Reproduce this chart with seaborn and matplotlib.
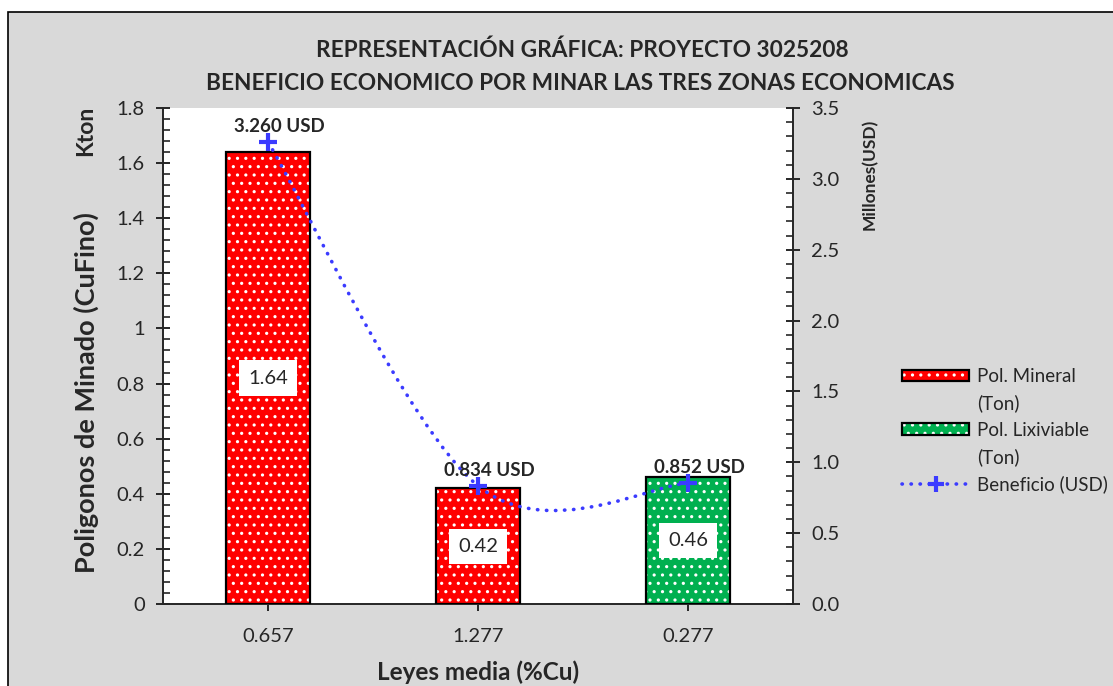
import numpy as np
import pandas as pd
import matplotlib
matplotlib.use("Agg")
import matplotlib.pyplot as plt
import seaborn as sns
from matplotlib.patches import Rectangle, Patch, PathPatch
from matplotlib.path import Path
from matplotlib.lines import Line2D
from matplotlib.ticker import MultipleLocator, FormatStrFormatter

# data
leyes = ["0.657", "1.277", "0.277"]
kton = [1.64, 0.42, 0.46]
tipo = ["Pol. Mineral", "Pol. Mineral", "Pol. Lixiviable"]
beneficio = [3.260, 0.834, 0.852]
beneficio_lbl = ["3.260 USD", "0.834 USD", "0.852 USD"]

colores = {"Pol. Mineral": "#ff0000", "Pol. Lixiviable": "#00b050"}
azul = "#3b3bff"

sns.set_style("ticks")
plt.rcParams["font.family"] = ["Lato", "DejaVu Sans"]
plt.rcParams["hatch.linewidth"] = 1.1

df = pd.DataFrame({"ley": leyes, "kton": kton, "tipo": tipo})

fig = plt.figure(figsize=(11.13, 6.86), dpi=100)
fig.patch.set_facecolor("white")
fig.patches.append(Rectangle((8 / 1113, -0.1), 1.2, 1.1 - 12 / 686,
                             transform=fig.transFigure, facecolor="#d9d9d9",
                             edgecolor="black", linewidth=1.2, zorder=-10))

ax = fig.add_axes([163 / 1113, 82 / 686, 630 / 1113, 496 / 686])
ax.set_facecolor("white")

sns.barplot(data=df, x="ley", y="kton", hue="tipo", palette=colores,
            dodge=False, width=0.4, order=leyes, legend=False, saturation=1, ax=ax)

bars = [p for p in ax.patches if p.get_height() > 0]
for p in bars:
    p.set_hatch("..")
    p.set_edgecolor("white")
    p.set_linewidth(0)
    ax.add_patch(Rectangle((p.get_x(), p.get_y()), p.get_width(), p.get_height(),
                           fill=False, edgecolor="black", linewidth=1.6, zorder=3))

for i, v in enumerate(kton):
    ax.text(i, v / 2, f"{v:.2f}", ha="center", va="center", fontsize=14.5,
            zorder=5, bbox=dict(boxstyle="square,pad=0.45", fc="white", ec="none"))

ax.set_ylim(0, 1.8)
ax.set_xlim(-0.5, 2.5)
ax.yaxis.set_minor_locator(MultipleLocator(0.04))
ax.set_yticks(np.arange(0, 1.81, 0.2))
ax.set_yticklabels(["0", "0.2", "0.4", "0.6", "0.8", "1", "1.2", "1.4", "1.6", "1.8"])
ax.tick_params(axis="y", which="major", direction="inout", length=10, width=1.4,
               labelsize=14.5, pad=8)
ax.tick_params(axis="y", which="minor", direction="in", length=5, width=1.2)
ax.tick_params(axis="x", which="major", direction="inout", length=10, width=1.4,
               labelsize=14.5, pad=12)
ax.spines["top"].set_visible(False)
ax.spines["right"].set_visible(False)
for s in ["left", "bottom"]:
    ax.spines[s].set_linewidth(1.4)
ax.set_xlabel("")
ax.set_ylabel("")

# secondary axis: beneficio
ax2 = ax.twinx()
ax2.set_ylim(0, 3.5)
ax2.yaxis.set_major_locator(MultipleLocator(0.5))
ax2.yaxis.set_minor_locator(MultipleLocator(0.1))
ax2.yaxis.set_major_formatter(FormatStrFormatter("%.1f"))
ax2.tick_params(axis="y", which="major", direction="inout", length=10, width=1.4,
                labelsize=14.5, pad=8)
ax2.tick_params(axis="y", which="minor", direction="in", length=5, width=1.2)
for s in ["top", "left", "bottom"]:
    ax2.spines[s].set_visible(False)
ax2.spines["right"].set_linewidth(1.4)

# smoothed line (Excel-like bezier through the points)
xs = np.arange(len(beneficio), dtype=float)
pts = np.column_stack([xs, beneficio])
verts = [tuple(pts[0])]
codes = [Path.MOVETO]
n = len(pts)
for i in range(n - 1):
    p_prev = pts[max(i - 1, 0)]
    p0 = pts[i]
    p1 = pts[i + 1]
    p_next = pts[min(i + 2, n - 1)]
    c1 = p0 + (p1 - p_prev) / 6
    c2 = p1 - (p_next - p0) / 6
    verts += [tuple(c1), tuple(c2), tuple(p1)]
    codes += [Path.CURVE4] * 3
curva = PathPatch(Path(verts, codes), fill=False, edgecolor=azul, linewidth=2.6,
                  linestyle=(0, (0.1, 2.4)), capstyle="round", zorder=4)
ax2.add_patch(curva)
sns.scatterplot(x=xs, y=beneficio, marker="+", s=160, color=azul, linewidth=3,
                ax=ax2, zorder=6)

for i, (v, t) in enumerate(zip(beneficio, beneficio_lbl)):
    ax2.annotate(t, (i, v), xytext=(8, 11), textcoords="offset points",
                 ha="center", va="center", fontsize=13.5, fontweight="bold", zorder=6)

ax2.set_ylabel("")

# titles and labels
fig.text(582 / 1113, 1 - 50 / 686, "REPRESENTACIÓN GRÁFICA: PROYECTO 3025208",
         ha="center", va="center", fontsize=16.3, fontweight="bold")
fig.text(580 / 1113, 1 - 84 / 686, "BENEFICIO ECONOMICO POR MINAR LAS TRES ZONAS ECONOMICAS",
         ha="center", va="center", fontsize=16.3, fontweight="bold")
fig.text(86 / 1113, 1 - 393 / 686, "Poligonos de Minado (CuFino)", rotation=90,
         ha="center", va="center", fontsize=19.5, fontweight="bold")
fig.text(86 / 1113, 1 - 131 / 686, "Kton", rotation=90,
         ha="center", va="center", fontsize=16.5, fontweight="bold")
fig.text(870 / 1113, 1 - 174 / 686, "Millones(USD)", rotation=90,
         ha="center", va="center", fontsize=12.5, fontweight="bold")
fig.text(478 / 1113, 1 - 672 / 686, "Leyes media (%Cu)",
         ha="center", va="center", fontsize=17.5, fontweight="bold")

# legend: the "(Ton)" lines sit under their entry, handle beside the first line
h_min = (Patch(facecolor=colores["Pol. Mineral"], edgecolor="white", hatch="..", linewidth=0),
         Patch(fill=False, edgecolor="black", linewidth=1.6))
h_lix = (Patch(facecolor=colores["Pol. Lixiviable"], edgecolor="white", hatch="..", linewidth=0),
         Patch(fill=False, edgecolor="black", linewidth=1.6))
h_ben = Line2D([], [], color=azul, linewidth=2.6, linestyle=(0, (0.1, 2.4)),
               dash_capstyle="round", marker="+", markersize=11, markeredgewidth=3)
blank = Patch(visible=False)
leg = fig.legend([h_min, blank, h_lix, blank, h_ben],
                 ["Pol. Mineral", "(Ton)", "Pol. Lixiviable", "(Ton)", "Beneficio (USD)"],
                 loc="upper left", bbox_to_anchor=(885 / 1113, 1 - 351 / 686),
                 frameon=False, fontsize=13.5, handlelength=3.6, handleheight=0.55,
                 handletextpad=0.4, labelspacing=0.5)

fig.savefig("out.png", dpi=100)
